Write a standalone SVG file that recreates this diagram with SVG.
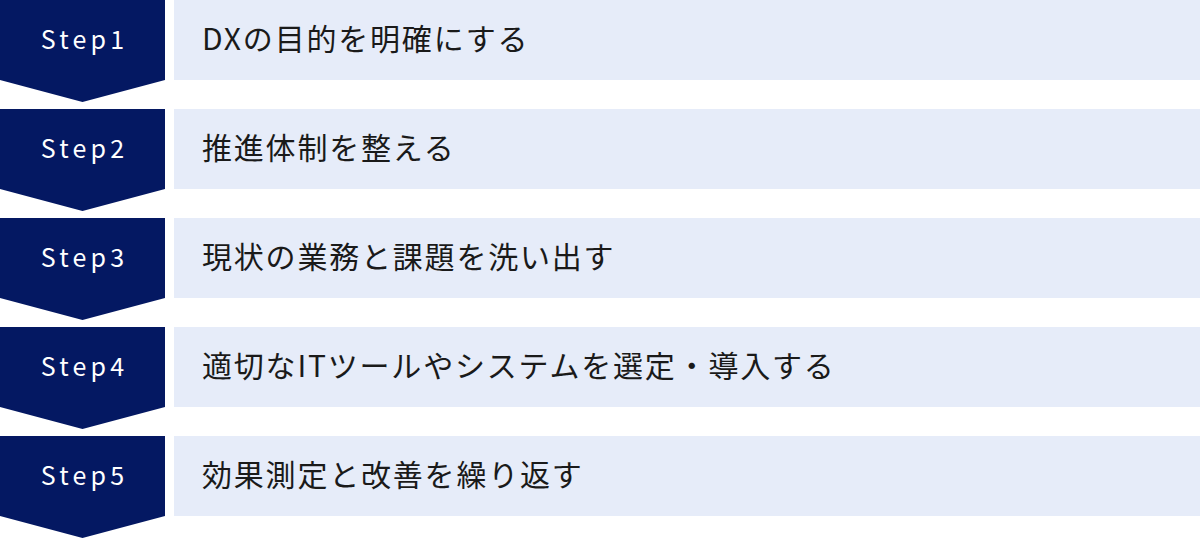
<svg xmlns="http://www.w3.org/2000/svg" width="1200" height="538" viewBox="0 0 1200 538">
<style>
.chev{fill:#041862}
.bar{fill:#E6ECF9}
.step{font-family:"Noto Sans CJK JP","Noto Sans",sans-serif;font-size:25px;fill:#ffffff;text-anchor:middle;letter-spacing:4.2px}
.lbl{font-family:"Noto Sans CJK JP","Noto Sans",sans-serif;font-size:30px;fill:#1a1a1a;letter-spacing:1.8px}
</style>
<rect width="1200" height="538" fill="#ffffff"/>
<g id="step1">
<path class="chev" d="M0 0H165V80L82.5 102L0 80Z"/>
<rect class="bar" x="174" y="0" width="1026" height="80"/>
<text class="step" x="84.6" y="48.5">Step1</text>
<text class="lbl" x="202" y="50">DXの目的を明確にする</text>
</g>
<g id="step2" transform="translate(0,109)">
<path class="chev" d="M0 0H165V80L82.5 102L0 80Z"/>
<rect class="bar" x="174" y="0" width="1026" height="80"/>
<text class="step" x="84.6" y="48.5">Step2</text>
<text class="lbl" x="202" y="50">推進体制を整える</text>
</g>
<g id="step3" transform="translate(0,218)">
<path class="chev" d="M0 0H165V80L82.5 102L0 80Z"/>
<rect class="bar" x="174" y="0" width="1026" height="80"/>
<text class="step" x="84.6" y="48.5">Step3</text>
<text class="lbl" x="202" y="50">現状の業務と課題を洗い出す</text>
</g>
<g id="step4" transform="translate(0,327)">
<path class="chev" d="M0 0H165V80L82.5 102L0 80Z"/>
<rect class="bar" x="174" y="0" width="1026" height="80"/>
<text class="step" x="84.6" y="48.5">Step4</text>
<text class="lbl" x="202" y="50">適切なITツールやシステムを選定・導入する</text>
</g>
<g id="step5" transform="translate(0,436)">
<path class="chev" d="M0 0H165V80L82.5 102L0 80Z"/>
<rect class="bar" x="174" y="0" width="1026" height="80"/>
<text class="step" x="84.6" y="48.5">Step5</text>
<text class="lbl" x="202" y="50">効果測定と改善を繰り返す</text>
</g>
<g id="connectors"></g>
</svg>
